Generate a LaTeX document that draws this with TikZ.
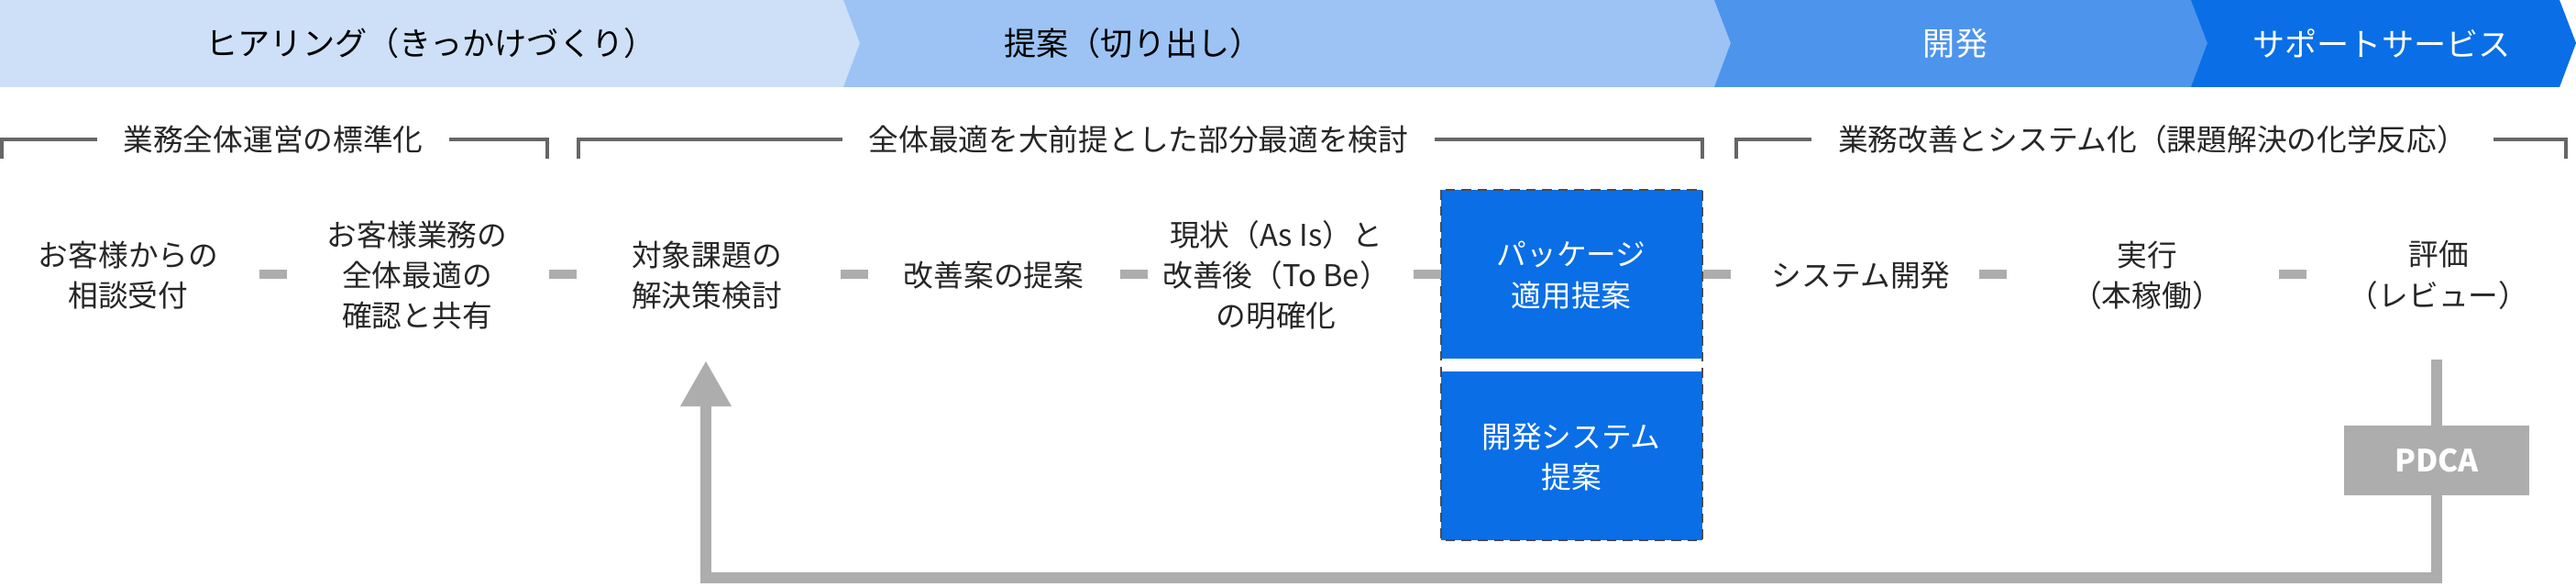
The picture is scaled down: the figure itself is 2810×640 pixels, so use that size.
\documentclass[tikz,border=0pt]{standalone}
\usepackage{fontspec}
\setmainfont{Noto Sans CJK JP}
\setsansfont{Noto Sans CJK JP}
\begin{document}
\begin{tikzpicture}[x=0.01cm,y=-0.01cm,
  lbl/.style={font=\fontsize{9.3}{12.6}\selectfont,text=black!85,align=center,inner sep=1pt},
  ban/.style={font=\fontsize{10}{12}\selectfont,inner sep=0pt},
  brk/.style={draw=black!60,line width=1.2pt},
  dsh/.style={draw=black!32,line width=2.9pt},
  fb/.style={draw=black!32,line width=3.2pt},
  bluebox/.style={fill=blue1,draw=none,minimum width=283\pgflinewidth}]
\definecolor{c1}{HTML}{CDE0F8}
\definecolor{c2}{HTML}{9CC3F4}
\definecolor{c3}{HTML}{4D94EC}
\definecolor{blue1}{HTML}{0A6EE6}
\useasboundingbox (0,0) rectangle (2810,640);
% banner
\fill[c1] (0,0) -- (940,0) -- (958,47) -- (940,95) -- (0,95) -- cycle;
\fill[c2] (920,0) -- (1890,0) -- (1908,47) -- (1890,95) -- (920,95) -- (938,47) -- cycle;
\fill[c3] (1870,0) -- (2408,0) -- (2426,47) -- (2408,95) -- (1870,95) -- (1888,47) -- cycle;
\fill[blue1] (2390,0) -- (2792,0) -- (2810,47) -- (2792,95) -- (2390,95) -- (2408,47) -- cycle;
\node[ban] (b1) at (470,47) {ヒアリング（きっかけづくり）};
\node[ban] (b2) at (1236,47) {提案（切り出し）};
\node[ban,text=white] (b3) at (2133,47) {開発};
\node[ban,text=white] (b4) at (2598,47) {サポートサービス};
% brackets
\node[lbl,fill=white,inner xsep=8pt] (k1) at (298,152) {業務全体運営の標準化};
\node[lbl,fill=white,inner xsep=8pt] (k2) at (1242,152) {全体最適を大前提とした部分最適を検討};
\node[lbl,fill=white,inner xsep=8pt] (k3) at (2348,152) {業務改善とシステム化（課題解決の化学反応）};
\begin{scope}[on background layer/.style={}]
\end{scope}
\draw[brk] (2,173) -- (2,152) -- (k1.west);
\draw[brk] (k1.east) -- (597,152) -- (597,173);
\draw[brk] (631,173) -- (631,152) -- (k2.west);
\draw[brk] (k2.east) -- (1857,152) -- (1857,173);
\draw[brk] (1894,173) -- (1894,152) -- (k3.west);
\draw[brk] (k3.east) -- (2799,152) -- (2799,173);
% box
\fill[blue1] (1572,207) rectangle (1857,391);
\fill[blue1] (1572,405) rectangle (1857,589);
\draw[black!70,densely dashed,line width=0.5pt] (1572,207) rectangle (1857,589);
\node[lbl,text=white] (n6) at (1714,300) {パッケージ\\適用提案};
\node[lbl,text=white] (n6b) at (1714,498) {開発システム\\提案};
% nodes
\node[lbl] (n1) at (140,300) {お客様からの\\相談受付};
\node[lbl] (n2) at (455,300) {お客様業務の\\全体最適の\\確認と共有};
\node[lbl] (n3) at (771,300) {対象課題の\\解決策検討};
\node[lbl] (n4) at (1084,300) {改善案の提案};
\node[lbl] (n5) at (1392,300) {現状（As Is）と\\改善後（To Be）\\の明確化};
\node[lbl] (n7) at (2030,300) {システム開発};
\node[lbl] (n8) at (2342,300) {実行\\（本稼働）};
\node[lbl] (n9) at (2660,300) {評価\\（レビュー）};
% dashes
\foreach \xx in {298,614,932,1237,1557,1873,2174,2501}
  \draw[dsh] (\xx-15,299) -- (\xx+15,299);
% feedback
\coordinate (fa) at (2658,392);
\coordinate (fb2) at (2658,630);
\coordinate (fc) at (770,630);
\coordinate (fd) at (770,440);
\draw[fb] (fa) -- (fb2) -- (fc) -- (fd);
\fill[black!32] (742,443) -- (770,394) -- (798,443) -- cycle;
\node[fill=black!32,text=white,font=\bfseries\fontsize{9.5}{11}\selectfont,minimum width=143\pgflinewidth,inner sep=0pt,minimum height=54\pgflinewidth] (pd) at (2658,502) {};
\fill[black!32] (2586,475) rectangle (2729,529);
\node[text=white,font=\bfseries\fontsize{9.5}{11}\selectfont] (pdt) at (2658,502) {PDCA};
\end{tikzpicture}
\end{document}
